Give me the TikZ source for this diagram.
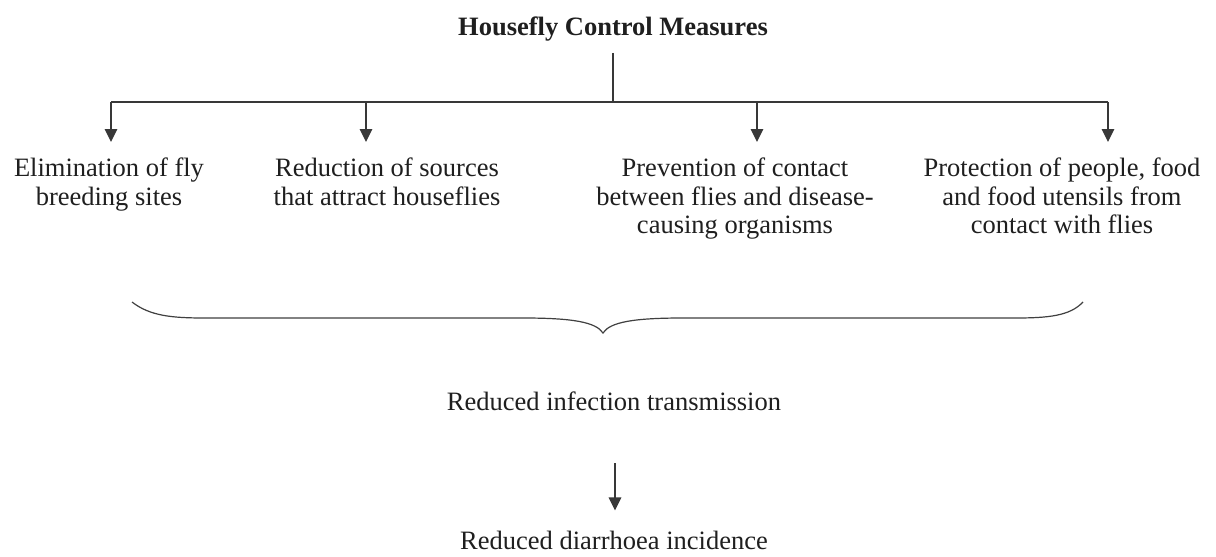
\documentclass[tikz,border=0pt]{standalone}
\usepackage{fontspec}
\setmainfont{Liberation Serif}
\usetikzlibrary{arrows.meta,calc}
\begin{document}
\begin{tikzpicture}[x=1pt,y=-1pt,
  txt/.style={font=\fontsize{26.5}{28.5}\selectfont, align=center, inner sep=0pt, text=black!88},
  ttl/.style={font=\fontsize{26.5}{28.5}\selectfont\bfseries, inner sep=0pt, text=black!88},
  ln/.style={draw=black!78, line width=1.3pt},
  arr/.style={ln, -{Triangle[length=13pt,width=12.5pt]}}]
\path[use as bounding box, fill=white] (0,0) rectangle (1216,557);
% title
\node[ttl, anchor=base] (title) at (613,35) {Housefly Control Measures};
\coordinate (hub) at (613,102);
\draw[ln] ($(title.south)+(0,12)$) -- (hub);
% bar
\coordinate (b1) at (111,102);
\coordinate (b2) at (366,102);
\coordinate (b3) at (757,102);
\coordinate (b4) at (1108,102);
\draw[ln] (b1) -- (b4);
% measures
\node[txt, anchor=north] (m1) at (109,158) {Elimination of fly\\breeding sites};
\node[txt, anchor=north] (m2) at (387,158) {Reduction of sources\\that attract houseflies};
\node[txt, anchor=north] (m3) at (735,158) {Prevention of contact\\between flies and disease-\\causing organisms};
\node[txt, anchor=north] (m4) at (1062,158) {Protection of people, food\\and food utensils from\\contact with flies};
\draw[arr] (b1) -- (b1 |- 0,142);
\draw[arr] (b2) -- (b2 |- 0,142);
\draw[arr] (b3) -- (b3 |- 0,142);
\draw[arr] (b4) -- (b4 |- 0,142);
% brace
\draw[draw=black!75, line width=1.2pt]
  (132,302) .. controls (150,316) and (172,318) .. (205,318)
  -- (523,318) .. controls (572,318) and (596,322) .. (603,333)
  .. controls (610,322) and (634,318) .. (683,318)
  -- (1015,318) .. controls (1048,318) and (1070,316) .. (1083,302);
% outcomes
\node[txt, anchor=base] (rit) at (614,410) {Reduced infection transmission};
\node[txt, anchor=base] (rdi) at (614,549) {Reduced diarrhoea incidence};
\draw[arr] ($(rit.south)+(1,53)$) -- ($(rdi.north)+(1,-20)$);
\end{tikzpicture}
\end{document}
